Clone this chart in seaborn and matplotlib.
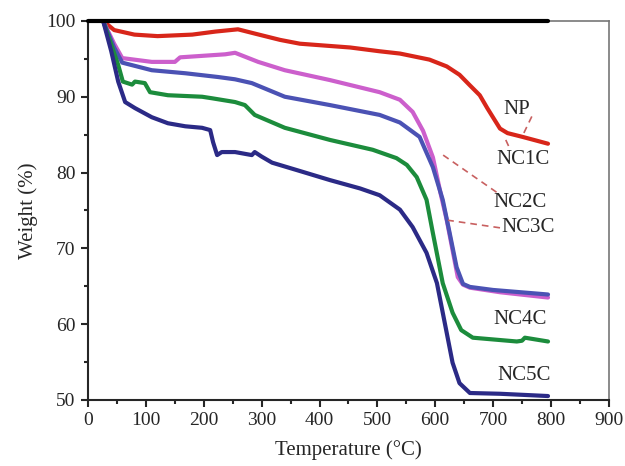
import numpy as np
import pandas as pd
import seaborn as sns
import matplotlib.pyplot as plt

# TGA curves (temperature in C, weight in %)
np_t = [26, 45, 80, 120, 180, 220, 259, 290, 332, 366, 453, 504, 539, 590, 620, 642, 660, 677, 690, 703, 712, 725, 751, 795]
np_w = [100, 98.8, 98.2, 98.0, 98.2, 98.6, 98.9, 98.3, 97.5, 97.0, 96.5, 96.0, 95.7, 94.9, 94.0, 92.9, 91.5, 90.2, 88.5, 86.9, 85.8, 85.2, 84.7, 83.8]

nc1_t = [26, 45, 59, 110, 150, 159, 237, 254, 294, 340, 418, 504, 539, 561, 579, 596, 610, 620, 639, 648, 660, 712, 795]
nc1_w = [100, 97.0, 95.1, 94.6, 94.6, 95.2, 95.6, 95.8, 94.6, 93.5, 92.2, 90.6, 89.6, 88.0, 85.5, 82.0, 77.0, 73.7, 66.2, 65.2, 64.8, 64.2, 63.5]

nc2_t = [26, 45, 59, 110, 168, 225, 254, 283, 340, 418, 504, 539, 573, 596, 613, 625, 637, 648, 660, 700, 795]
nc2_w = [100, 96.5, 94.5, 93.5, 93.1, 92.6, 92.3, 91.8, 90.0, 88.9, 87.6, 86.6, 84.7, 80.7, 76.4, 72.0, 67.5, 65.3, 64.9, 64.5, 63.9]

nc4_t = [26, 52, 60, 76, 81, 98, 107, 138, 197, 214, 254, 271, 288, 340, 418, 492, 533, 551, 568, 585, 596, 613, 630, 645, 665, 741, 750, 755, 795]
nc4_w = [100, 94.2, 92.0, 91.6, 92.0, 91.8, 90.6, 90.2, 90.0, 89.8, 89.3, 88.9, 87.6, 85.9, 84.3, 83.0, 81.9, 81.0, 79.4, 76.4, 72.0, 65.4, 61.5, 59.2, 58.2, 57.7, 57.8, 58.2, 57.7]

nc5_t = [26, 40, 52, 64, 81, 110, 138, 168, 197, 211, 216, 223, 231, 254, 283, 288, 300, 318, 366, 418, 470, 504, 539, 561, 585, 603, 620, 630, 642, 660, 712, 795]
nc5_w = [100, 96.0, 92.0, 89.3, 88.5, 87.3, 86.5, 86.1, 85.9, 85.6, 84.0, 82.3, 82.7, 82.7, 82.3, 82.7, 82.1, 81.3, 80.2, 79.0, 77.9, 77.0, 75.1, 72.8, 69.4, 65.4, 58.8, 54.9, 52.2, 50.9, 50.8, 50.5]

names = ["NP", "NC1C", "NC2C", "NC4C", "NC5C"]
colors = ["#d8261a", "#cc5fcc", "#4b52b4", "#1c8c3c", "#2b2a86"]

frames = []
for n, t, w in zip(names, [np_t, nc1_t, nc2_t, nc4_t, nc5_t], [np_w, nc1_w, nc2_w, nc4_w, nc5_w]):
    frames.append(pd.DataFrame({"T": t, "W": w, "sample": n}))
df = pd.concat(frames)

# curve labels and the dashed leader lines
labels = ["NP", "NC1C", "NC2C", "NC3C", "NC4C", "NC5C"]
label_xy = [(741, 88.3), (751, 81.7), (746, 76.0), (760, 72.7), (746, 60.6), (753, 53.2)]
lead_from = [(767, 87.4), (722, 84.3), (706, 77.4), (712, 72.7)]
lead_to = [(750, 84.7), (728, 83.3), (608, 82.6), (622, 73.7)]

sns.set_style("ticks")
plt.rcParams["font.family"] = ["Liberation Serif", "DejaVu Serif"]

fig, ax = plt.subplots(figsize=(6.25, 4.66), dpi=100)
fig.subplots_adjust(left=0.141, right=0.974, bottom=0.142, top=0.955)

ax.plot([0, 795], [100, 100], color="black", lw=3, clip_on=False, zorder=5)
sns.lineplot(data=df, x="T", y="W", hue="sample", palette=colors, sort=False,
             lw=3, legend=False, ax=ax, estimator=None)

for a, b in zip(lead_from, lead_to):
    ax.plot([a[0], b[0]], [a[1], b[1]], color="#c86060", lw=1.2, ls=(0, (4, 3)))
for lab, (x, y) in zip(labels, label_xy):
    ax.text(x, y, lab, ha="center", va="center", fontsize=15)

ax.set_xlim(0, 900)
ax.set_ylim(50, 100)
ax.set_xticks(range(0, 901, 100))
ax.set_xticks(range(50, 900, 100), minor=True)
ax.set_yticks(range(50, 101, 10))
ax.set_yticks(range(55, 100, 10), minor=True)
ax.tick_params(axis="both", which="major", length=5, width=1.5, labelsize=14, direction="out", pad=4)
ax.tick_params(axis="both", which="minor", length=3, width=1.5, direction="out")
ax.tick_params(top=False, right=False)
ax.set_xlabel("Temperature (°C)", fontsize=15, labelpad=8)
ax.set_ylabel("Weight (%)", fontsize=15, labelpad=6)
for s in ["left", "bottom"]:
    ax.spines[s].set_linewidth(1.5)
for s in ["top", "right"]:
    ax.spines[s].set_color("#777777")
    ax.spines[s].set_linewidth(1.2)

fig.savefig("out.png", dpi=100)
